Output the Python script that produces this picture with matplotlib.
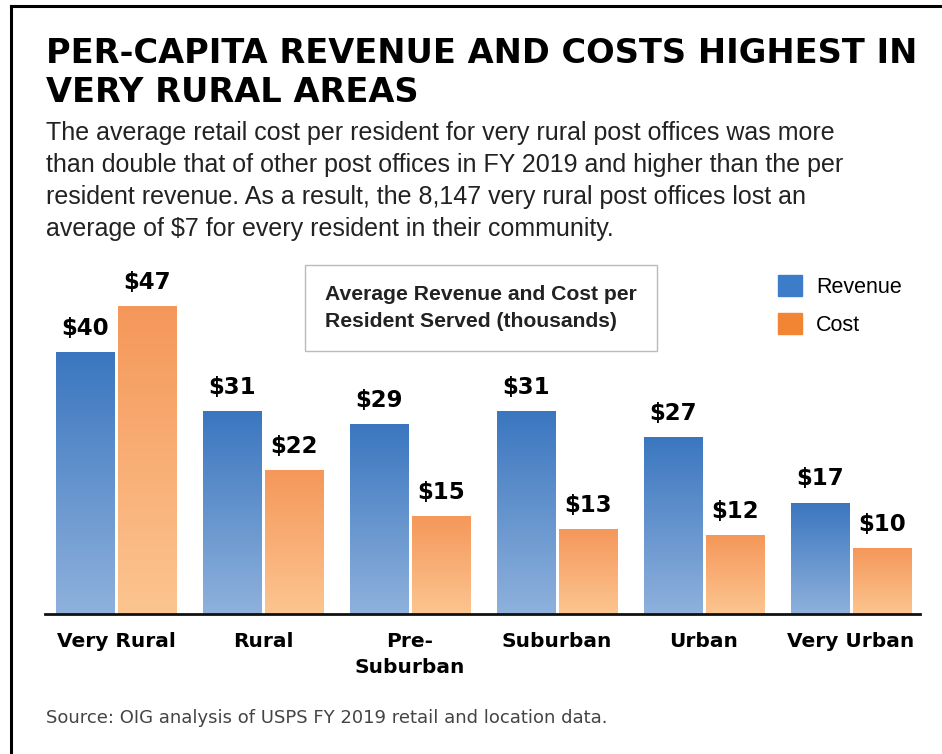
import numpy as np
import matplotlib
matplotlib.use('Agg')
import matplotlib.pyplot as plt
from matplotlib.colors import LinearSegmentedColormap
from matplotlib.patches import Rectangle
from matplotlib.lines import Line2D

categories = ['Very Rural', 'Rural', 'Pre-\nSuburban', 'Suburban', 'Urban', 'Very Urban']
revenue = [40, 31, 29, 31, 27, 17]
cost = [47, 22, 15, 13, 12, 10]

title = 'PER-CAPITA REVENUE AND COSTS HIGHEST IN\nVERY RURAL AREAS'
subtitle = ('The average retail cost per resident for very rural post offices was more\n'
            'than double that of other post offices in FY 2019 and higher than the per\n'
            'resident revenue. As a result, the 8,147 very rural post offices lost an\n'
            'average of $7 for every resident in their community.')
box_text = 'Average Revenue and Cost per\nResident Served (thousands)'
source = 'Source: OIG analysis of USPS FY 2019 retail and location data.'

plt.rcParams['font.family'] = ['Liberation Sans', 'DejaVu Sans']

fig = plt.figure(figsize=(9.42, 7.54), dpi=100)

# frame (left and top edges visible)
fig.add_artist(Line2D([0.0117, 0.0117], [0, 0.9920], transform=fig.transFigure, color='black', lw=2.2))
fig.add_artist(Line2D([0.0117, 1.0], [0.9920, 0.9920], transform=fig.transFigure, color='black', lw=2.2))

fig.text(0.049, 0.951, title, fontsize=24.2, fontweight='heavy', family=['DejaVu Sans'],
         va='top', ha='left', linespacing=1.25)
fig.text(0.049, 0.840, subtitle, fontsize=18, color='#222222', va='top', ha='left', linespacing=1.42)
fig.text(0.049, 0.048, source, fontsize=13, color='#444444', family=['DejaVu Sans'],
         va='center', ha='left')

ax = fig.add_axes([0.0478, 0.1857, 0.9289, 0.4695])
x = np.arange(len(categories))
w = 0.395
off = 0.211

blue_cmap = LinearSegmentedColormap.from_list('b', ['#8fb1dc', '#3a76bf'])
orange_cmap = LinearSegmentedColormap.from_list('o', ['#fcc590', '#f5975a'])

rev_bars = ax.bar(x - off, revenue, w, color='none', edgecolor='none')
cost_bars = ax.bar(x + off, cost, w, color='none', edgecolor='none')

grad = np.linspace(0, 1, 256).reshape(-1, 1)
for bars, cmap in [(rev_bars, blue_cmap), (cost_bars, orange_cmap)]:
    for b in bars:
        x0, h, bw = b.get_x(), b.get_height(), b.get_width()
        im = ax.imshow(grad, cmap=cmap, origin='lower', aspect='auto',
                       extent=[x0, x0 + bw, 0, h], zorder=2)
        im.set_clip_path(b)

for bars, vals in [(rev_bars, revenue), (cost_bars, cost)]:
    for b, v in zip(bars, vals):
        ax.text(b.get_x() + b.get_width() / 2, v + 3.6, f'${v}', ha='center', va='center',
                fontsize=16.5, fontweight='bold', family=['DejaVu Sans'], color='black')

ax.set_xlim(-0.483, 5.47)
ax.set_ylim(0, 54)
for s in ['top', 'right', 'left']:
    ax.spines[s].set_visible(False)
ax.spines['bottom'].set_linewidth(2)
ax.spines['bottom'].set_color('#111111')
ax.set_yticks([])
ax.set_xticks(x)
ax.set_xticklabels(categories, fontsize=14.5, fontweight='bold', family=['DejaVu Sans'],
                   linespacing=1.45, va='top')
ax.tick_params(axis='x', length=0, pad=13)

# box annotation
fig.text(0.345, 0.5915, box_text, fontsize=15.2, fontweight='bold', color='#222222',
         va='center', ha='left', linespacing=1.5,
         bbox=dict(boxstyle='square,pad=0.95', facecolor='white', edgecolor='#bbbbbb', lw=1))

# legend
handles = [Rectangle((0, 0), 1, 1, color='#3d7cc9'), Rectangle((0, 0), 1, 1, color='#f28534')]
fig.legend(handles, ['Revenue', 'Cost'], loc='upper left', bbox_to_anchor=(0.8259, 0.635),
           frameon=False, fontsize=15.5, handlelength=1.12, handleheight=1.12,
           labelspacing=0.72, handletextpad=0.65, borderpad=0, borderaxespad=0)

fig.savefig('out.png', dpi=100)
